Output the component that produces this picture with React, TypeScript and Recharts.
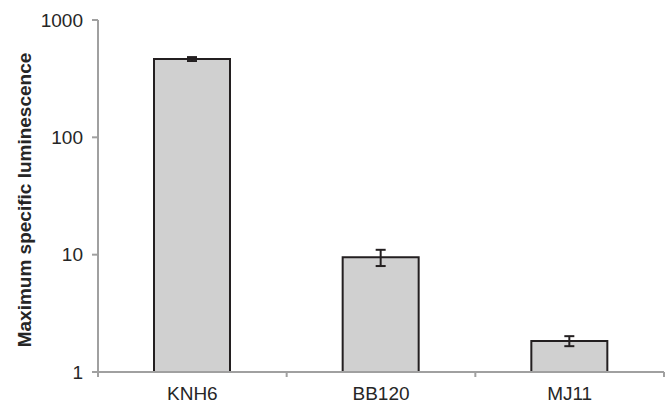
import React from 'react';
import { BarChart, Bar, XAxis, YAxis, ErrorBar } from 'recharts';

const categories = ['KNH6', 'BB120', 'MJ11'];
const values = [465, 9.5, 1.84];
const errors = [18, 1.5, 0.18];
const yTicks = [1, 10, 100, 1000];

const data = categories.map((name, i) => ({ name, value: values[i], err: errors[i] }));

const W = 670;
const H = 405;
const LEFT = 98;
const RIGHT = 6;
const BAND = (W - LEFT - RIGHT) / categories.length;
const AXIS = '#a0a0a0';
const TEXT = '#262626';
const TICK_SIZE = 5;
const TICK_MARGIN = 10;

function XTick(props: any) {
  const { x, y, payload, index } = props;
  const axisY = y - TICK_SIZE - TICK_MARGIN;
  return (
    <g>
      <text x={x} y={y} dy="0.71em" textAnchor="middle" fill={TEXT} fontSize={19} fontFamily="Liberation Sans, Arial, sans-serif">
        {payload.value}
      </text>
      <line x1={x + BAND / 2} x2={x + BAND / 2} y1={axisY} y2={axisY + TICK_SIZE} stroke={AXIS} strokeWidth={2} />
      {index === 0 && (
        <line x1={x - BAND / 2} x2={x - BAND / 2} y1={axisY} y2={axisY + TICK_SIZE} stroke={AXIS} strokeWidth={2} />
      )}
    </g>
  );
}

export default function App() {
  return (
    <div style={{ position: 'absolute', left: 0, top: 0, width: W, height: H, background: '#fff' }}>
      <BarChart width={W} height={H} data={data} margin={{ top: 20, right: RIGHT, left: 0, bottom: 0 }}>
        <XAxis
          dataKey="name"
          height={33}
          axisLine={{ stroke: AXIS, strokeWidth: 2 }}
          tickLine={false}
          tickSize={TICK_SIZE}
          tickMargin={TICK_MARGIN}
          tick={<XTick />}
          interval={0}
        />
        <YAxis
          scale="log"
          domain={[1, 1000]}
          ticks={yTicks}
          allowDataOverflow
          width={LEFT}
          axisLine={{ stroke: AXIS, strokeWidth: 2 }}
          tickLine={{ stroke: AXIS, strokeWidth: 2 }}
          tickSize={6}
          tickMargin={9}
          tick={{ fill: TEXT, fontSize: 19, fontFamily: 'Liberation Sans, Arial, sans-serif' }}
          label={{
            value: 'Maximum specific luminescence',
            angle: -90,
            position: 'insideLeft',
            offset: 0,
            dx: 24,
            dy: 4,
            style: { textAnchor: 'middle', fill: TEXT, fontSize: 19, fontWeight: 'bold', fontFamily: 'Liberation Sans, Arial, sans-serif' },
          }}
        />
        <Bar dataKey="value" fill="#d0d0d0" stroke="#231f20" strokeWidth={2} barSize={76} isAnimationActive={false}>
          <ErrorBar dataKey="err" width={5} stroke="#231f20" strokeWidth={2} direction="y" />
        </Bar>
      </BarChart>
    </div>
  );
}
